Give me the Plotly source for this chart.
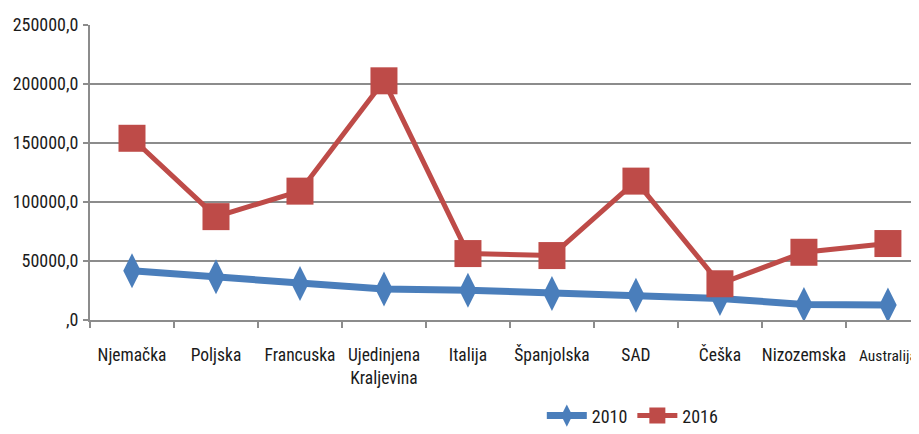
import plotly.graph_objects as go

categories = ["Njemačka", "Poljska", "Francuska", "Ujedinjena<br>Kraljevina", "Italija",
              "Španjolska", "SAD", "Češka", "Nizozemska",
              "<span style='font-size:15.5px'>Australija</span>"]
values_2010 = [41700, 36600, 31000, 26200, 25300, 22500, 21000, 18300, 13200, 12700]
values_2016 = [154000, 87600, 109200, 202700, 56300, 54600, 117700, 30700, 57400, 64800]
y_ticks = [0, 50000, 100000, 150000, 200000, 250000]
y_tick_labels = [",0", "50000,0", "100000,0", "150000,0", "200000,0", "250000,0"]

FONT = "Liberation Sans Narrow, Arial Narrow, Roboto Condensed, Liberation Sans, sans-serif"

fig = go.Figure()
fig.add_trace(go.Scatter(
    x=categories, y=values_2010, name="2010", mode="lines+markers",
    line=dict(color="#4a7ebb", width=7),
    marker=dict(symbol="diamond-tall", size=25, color="#4a7ebb"),
))
fig.add_trace(go.Scatter(
    x=categories, y=values_2016, name="2016", mode="lines+markers",
    line=dict(color="#be4b48", width=5),
    marker=dict(symbol="square", size=27, color="#be4b48"),
))

# page body has an 8px default margin, so the figure is offset by (8, 8)
fig.update_layout(
    width=911, height=426,
    margin=dict(l=82, r=0, t=17, b=114, autoexpand=False),
    plot_bgcolor="white", paper_bgcolor="white",
    font=dict(family=FONT, size=17, color="#1a1a1a"),
    showlegend=True,
    legend=dict(orientation="h", x=0.545, xanchor="left", y=-0.325, yanchor="middle",
                font=dict(size=18), itemwidth=40, tracegroupgap=0,
                bgcolor="rgba(0,0,0,0)"),
    xaxis=dict(
        type="category", range=[-0.5, 9.37], automargin=False, tickangle=0,
        tickson="boundaries", ticks="outside", ticklen=6, tickcolor="#8c8c8c", tickwidth=1.5,
        showgrid=False, showline=True, linecolor="#8c8c8c", linewidth=2,
        ticklabelstandoff=18, tickfont=dict(size=17.5),
    ),
    yaxis=dict(
        range=[0, 250000], tickvals=y_ticks, ticktext=y_tick_labels, automargin=False,
        showgrid=True, gridcolor="#8c8c8c", gridwidth=2,
        ticks="outside", ticklen=5, tickcolor="#8c8c8c", tickwidth=1.5,
        showline=True, linecolor="#8c8c8c", linewidth=2,
        zeroline=False, tickfont=dict(size=18), ticklabelstandoff=1,
    ),
)

fig.write_html("out.html")
